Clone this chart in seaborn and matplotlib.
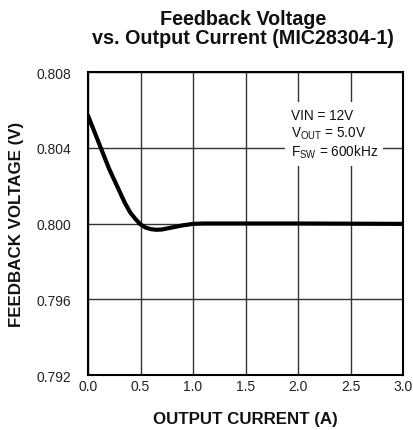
import matplotlib
matplotlib.use("Agg")
import matplotlib.pyplot as plt
import seaborn as sns
import pandas as pd

current = [0.0, 0.05, 0.1, 0.15, 0.2, 0.25, 0.3, 0.35, 0.4, 0.45, 0.5, 0.55, 0.6, 0.65, 0.7,
           0.8, 0.9, 1.0, 1.1, 1.5, 2.0, 2.5, 3.0]
voltage = [0.8057, 0.8050, 0.8043, 0.8036, 0.8029, 0.8023, 0.8017, 0.8011, 0.8006, 0.80025,
           0.79995, 0.79978, 0.79970, 0.79967, 0.79968, 0.79979, 0.79990, 0.79998, 0.8000,
           0.8000, 0.8000, 0.79999, 0.79998]
xticks = [0.0, 0.5, 1.0, 1.5, 2.0, 2.5, 3.0]
yticks = [0.792, 0.796, 0.800, 0.804, 0.808]
notes = ["VIN = 12V", r"V$_{\mathrm{OUT}}$ = 5.0V", r"F$_{\mathrm{SW}}$ = 600kHz"]

sns.set_theme(style="white")
plt.rcParams['font.family'] = ['Liberation Sans', 'DejaVu Sans']
plt.rcParams['mathtext.fontset'] = 'custom'
plt.rcParams['mathtext.rm'] = 'Liberation Sans'

df = pd.DataFrame({"I": current, "V": voltage})

fig = plt.figure(figsize=(4.14, 4.31), dpi=100)
ax = fig.add_axes([88/414, 1-376/431, 315/414, 303/431])

sns.lineplot(data=df, x="I", y="V", ax=ax, color="black", linewidth=3.0, zorder=3)

ax.set_xlim(0, 3.0)
ax.set_ylim(0.792, 0.808)
ax.set_xticks(xticks)
ax.set_xticklabels([f"{t:.1f}" for t in xticks])
ax.set_yticks(yticks)
ax.set_yticklabels([f"{t:.3f}" for t in yticks])
ax.tick_params(axis='both', length=0, labelsize=10, colors="#222222")
ax.tick_params(axis='x', pad=3)
ax.tick_params(axis='y', pad=12)
ax.grid(True, color="#333333", linewidth=1.0)
for s in ax.spines.values():
    s.set_color("black")
    s.set_linewidth(1.5)

ax.set_xlabel("OUTPUT CURRENT (A)", fontsize=12.2, fontweight="bold", labelpad=13, color="#111111")
ax.set_ylabel("FEEDBACK VOLTAGE (V)", fontsize=12.2, fontweight="bold", labelpad=9, color="#111111")

fig.text(243/414, 1-29/431, "Feedback Voltage\nvs. Output Current (MIC28304-1)",
         ha="center", va="center", fontsize=14.2, fontweight="bold", linespacing=1.05,
         color="#111111")

for i, note in enumerate(notes):
    y = 0.80583 - i * 0.00095
    # white backing box (text invisible) so the grid is broken behind the note
    ax.text(1.93, y, note, fontsize=9.8, ha="left", va="center_baseline", zorder=4,
            color="white", alpha=0.0,
            bbox=dict(facecolor="white", edgecolor="none", pad=4, alpha=1.0))
    ax.text(1.93, y, note, fontsize=9.8, ha="left", va="center_baseline", zorder=5,
            color="#111111")

fig.savefig("out.png", dpi=100)
